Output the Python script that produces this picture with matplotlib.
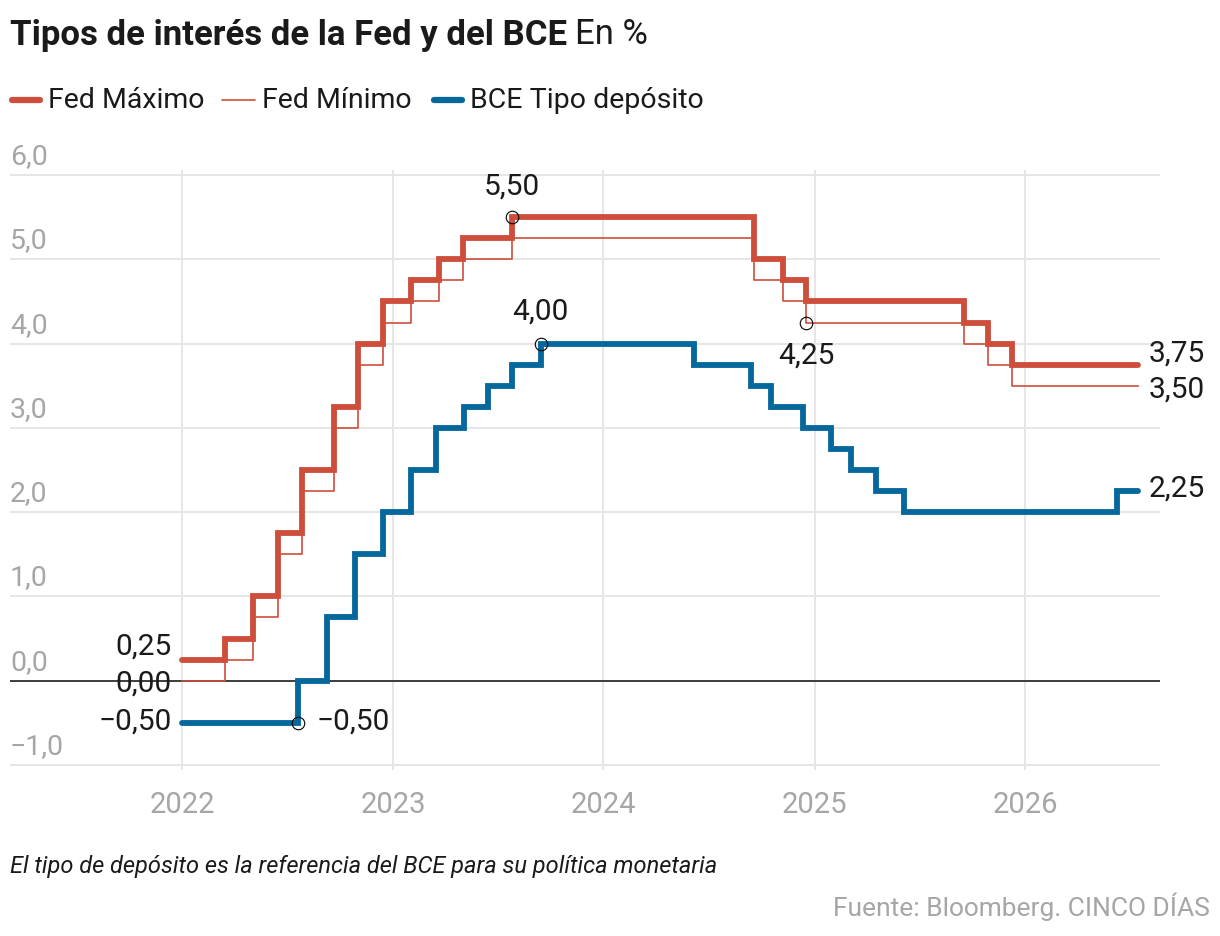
import matplotlib
matplotlib.use("Agg")
import matplotlib.pyplot as plt
import matplotlib.transforms as mtransforms
from matplotlib.lines import Line2D
import pandas as pd

# ---------------- data ----------------
fed_dates = ['2022-01-01', '2022-03-16', '2022-05-04', '2022-06-15', '2022-07-27',
             '2022-09-21', '2022-11-02', '2022-12-14', '2023-02-01', '2023-03-22',
             '2023-05-03', '2023-07-26', '2024-09-18', '2024-11-07', '2024-12-18',
             '2025-09-17', '2025-10-29', '2025-12-10', '2026-07-15']
fed_max = [0.25, 0.50, 1.00, 1.75, 2.50, 3.25, 4.00, 4.50, 4.75, 5.00,
           5.25, 5.50, 5.00, 4.75, 4.50, 4.25, 4.00, 3.75, 3.75]
fed_min = [0.00, 0.25, 0.75, 1.50, 2.25, 3.00, 3.75, 4.25, 4.50, 4.75,
           5.00, 5.25, 4.75, 4.50, 4.25, 4.00, 3.75, 3.50, 3.50]

bce_dates = ['2022-01-01', '2022-07-21', '2022-09-08', '2022-10-27', '2022-12-15',
             '2023-02-02', '2023-03-16', '2023-05-04', '2023-06-15', '2023-07-27',
             '2023-09-14', '2024-06-06', '2024-09-12', '2024-10-17', '2024-12-12',
             '2025-01-30', '2025-03-06', '2025-04-17', '2025-06-05', '2026-06-10',
             '2026-07-15']
bce_dep = [-0.50, 0.00, 0.75, 1.50, 2.00, 2.50, 3.00, 3.25, 3.50, 3.75,
           4.00, 3.75, 3.50, 3.25, 3.00, 2.75, 2.50, 2.25, 2.00, 2.25, 2.25]

y_ticks = [-1, 0, 1, 2, 3, 4, 5, 6]
y_tick_labels = ['\u22121,0', '0,0', '1,0', '2,0', '3,0', '4,0', '5,0', '6,0']
x_years = ['2022', '2023', '2024', '2025', '2026']

# highlighted points: (date, value)
marked = [('2023-07-26', 5.50), ('2023-09-14', 4.00),
          ('2024-12-18', 4.25), ('2022-07-21', -0.50)]

# ---------------- style ----------------
RED = '#cf4e3b'
BLUE = '#05689d'
GRID = '#e6e6e6'
GREY = '#a6a6a6'
TXT = '#1a1a1a'
FAM = ['Roboto', 'DejaVu Sans']
plt.rcParams['font.family'] = FAM

W, H = 1220, 936
fig = plt.figure(figsize=(W / 100, H / 100), dpi=100)
ax = fig.add_axes([10 / W, 1 - 770 / H, 1150 / W, 600 / H])

fd = pd.to_datetime(fed_dates)
bd = pd.to_datetime(bce_dates)

ax.set_xlim(pd.Timestamp('2021-03-08'), pd.Timestamp('2026-08-23'))
ax.set_ylim(-1.06, 6.06)

for s in ax.spines.values():
    s.set_visible(False)

# grid
ax.set_yticks(y_ticks)
ax.set_yticklabels([])
ax.tick_params(axis='y', length=0)
ax.set_xticks(pd.to_datetime([y + '-01-01' for y in x_years]))
ax.set_xticklabels(x_years)
ax.tick_params(axis='x', length=0, pad=15, labelsize=21, labelcolor=GREY)
ax.grid(True, color=GRID, lw=1.4, zorder=0)
ax.set_axisbelow(True)

ax.axhline(0, color='#222222', lw=1.2, zorder=2)

# y tick labels above gridlines, left aligned
off = mtransforms.offset_copy(ax.get_yaxis_transform(), fig=fig, x=0, y=5, units='dots')
for v, lab in zip(y_ticks, y_tick_labels):
    ax.text(0, v, lab, transform=off, ha='left', va='bottom', fontsize=20.5, color=GREY)

# series
ax.plot(fd, fed_min, drawstyle='steps-post', color=RED, lw=1.2, zorder=3)
ax.plot(fd, fed_max, drawstyle='steps-post', color=RED, lw=4.2, zorder=4,
        solid_capstyle='round', solid_joinstyle='miter')
ax.plot(bd, bce_dep, drawstyle='steps-post', color=BLUE, lw=4.2, zorder=4,
        solid_capstyle='round', solid_joinstyle='miter')

# markers
for d, v in marked:
    ax.plot(pd.Timestamp(d), v, 'o', ms=9, mfc='none', mec='black', mew=0.8, zorder=6)

def annot(d, v, lab, dx, dy, ha, va='center'):
    ax.annotate(lab, (pd.Timestamp(d), v), xytext=(dx, dy), textcoords='offset pixels',
                ha=ha, va=va, fontsize=21.5, color=TXT, zorder=7)

annot('2023-07-26', 5.50, '5,50', 0, 31, 'center')
annot('2023-09-14', 4.00, '4,00', 0, 32, 'center')
annot('2024-12-18', 4.25, '4,25', 0, -33, 'center')
annot('2022-07-21', -0.50, '\u22120,50', 18, 1, 'left')

# start labels
annot(fd[0], fed_max[0], '0,25', -11, 13, 'right')
annot(fd[0], fed_min[0], '0,00', -11, -3, 'right')
annot(bd[0], bce_dep[0], '\u22120,50', -11, 1, 'right')
# end labels
annot(fd[-1], fed_max[-1], '3,75', 11, 11, 'left')
annot(fd[-1], fed_min[-1], '3,50', 11, -4, 'left')
annot(bd[-1], bce_dep[-1], '2,25', 11, 2, 'left')

# ---------------- title / legend / notes ----------------
t1 = fig.text(10 / W, 1 - 35 / H, 'Tipos de interés de la Fed y del BCE', fontsize=25,
              fontweight='bold', color=TXT, va='center', ha='left')
fig.canvas.draw()
bb = t1.get_window_extent()
fig.text((bb.x1 + 8) / W, 1 - 35 / H, 'En %', fontsize=25, color=TXT, va='center', ha='left')

ly = 1 - 100 / H
legend_items = [(12, 40, 4.5, 'Fed Máximo', 48), (222, 255, 1.2, 'Fed Mínimo', 262),
                (434, 462, 4.5, 'BCE Tipo depósito', 470)]
cols = [RED, RED, BLUE]
for (x0, x1, lw, lab, tx), c in zip(legend_items, cols):
    fig.add_artist(Line2D([x0 / W, x1 / W], [ly, ly], color=c, lw=lw,
                          solid_capstyle='round', transform=fig.transFigure))
    fig.text(tx / W, ly, lab, fontsize=20.5, color=TXT, va='center', ha='left')

fig.text(10 / W, 1 - 866 / H, 'El tipo de depósito es la referencia del BCE para su política monetaria',
         fontsize=17, style='italic', color=TXT, va='center', ha='left')
fig.text(1210 / W, 1 - 907 / H, 'Fuente: Bloomberg. CINCO DÍAS', fontsize=19, color=GREY,
         va='center', ha='right')

fig.savefig('out.png', dpi=100)
